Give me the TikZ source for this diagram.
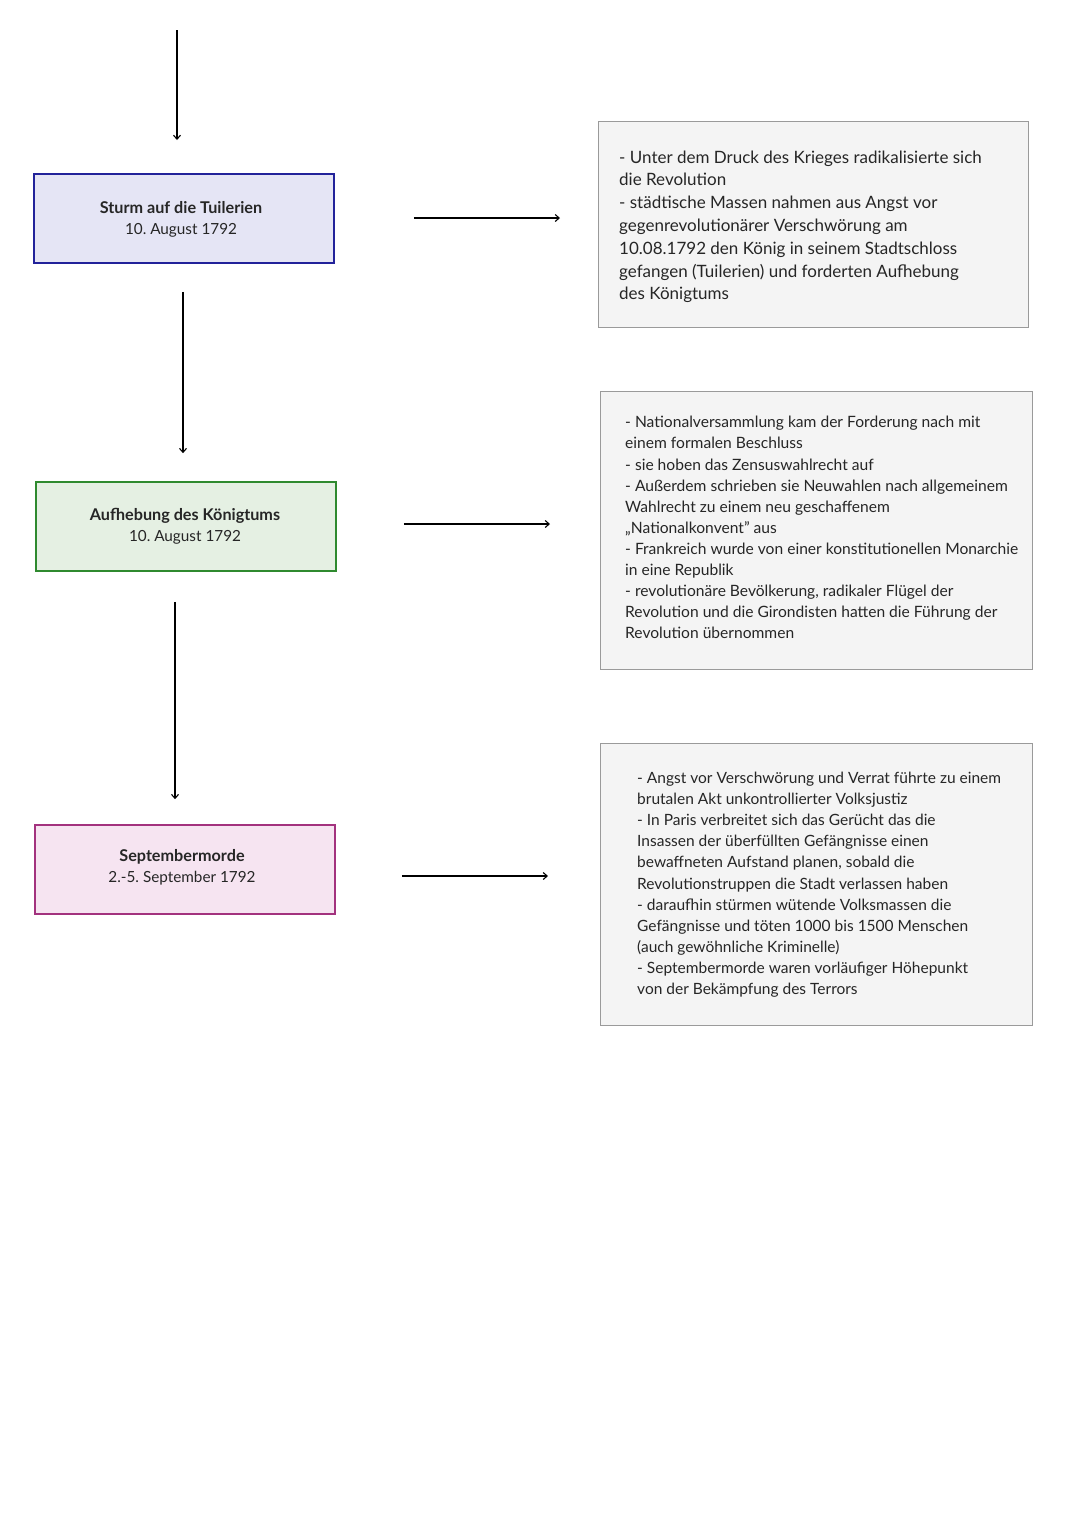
\documentclass[tikz,border=0pt]{standalone}
\usepackage{fontspec}
\setmainfont{Lato}
\usetikzlibrary{arrows.meta,calc}
\frenchspacing
\definecolor{boxgray}{HTML}{F4F4F4}
\definecolor{linegray}{HTML}{9A9A9A}
\definecolor{blueFill}{HTML}{E5E5F5}
\definecolor{blueLine}{HTML}{22229A}
\definecolor{greenFill}{HTML}{E5F0E3}
\definecolor{greenLine}{HTML}{2F8A2F}
\definecolor{pinkFill}{HTML}{F6E4F1}
\definecolor{pinkLine}{HTML}{A3327E}
\definecolor{txt}{HTML}{262626}
\newcommand{\evtitle}[1]{{\fontsize{16.2}{21}\selectfont\bfseries #1}}
\tikzset{
  event/.style={draw, line width=1.6pt, minimum width=300pt, minimum height=89pt,
    align=center, inner sep=0pt, text=txt, font=\fontsize{15.3}{21.5}\selectfont},
  infobox/.style={draw=linegray, fill=boxgray, line width=1.4pt, anchor=north west, inner sep=0pt},
  infotext/.style={anchor=west, align=left, inner sep=0pt, text=txt},
  flow/.style={line width=1.2pt, -{Straight Barb[length=4pt,width=7pt,line width=1.1pt]}}
}
\begin{document}
\begin{tikzpicture}[x=1pt,y=-1pt]
\useasboundingbox (0,0) rectangle (1080,1527);
\fill[white] (0,0) rectangle (1080,1527);

% event boxes
\node[event, fill=blueFill, draw=blueLine] (A) at (184,218.5) {};
\node[text=txt, align=center, inner sep=0pt, font=\fontsize{15.3}{21.5}\selectfont] (At) at ($(A.center)+(-3,1)$) {\evtitle{Sturm auf die Tuilerien}\\10. August 1792};
\node[event, fill=greenFill, draw=greenLine] (B) at (186,526.5) {};
\node[text=txt, align=center, inner sep=0pt, font=\fontsize{15.3}{21.5}\selectfont] (Bt) at ($(B.center)+(-1,0)$) {\evtitle{Aufhebung des Königtums}\\10. August 1792};
\node[event, fill=pinkFill, draw=pinkLine] (C) at (185,869.5) {};
\node[text=txt, align=center, inner sep=0pt, font=\fontsize{15.3}{21.5}\selectfont] (Ct) at ($(C.center)+(-3,-2)$) {\evtitle{Septembermorde}\\2.-5. September 1792};

% info boxes
\node[infobox, minimum width=430pt, minimum height=206pt] (I1) at (598,121) {};
\node[infobox, minimum width=432pt, minimum height=278pt] (I2) at (600,391) {};
\node[infobox, minimum width=432pt, minimum height=282pt] (I3) at (600,743) {};

\node[infotext, font=\fontsize{17}{22.8}\selectfont] (T1) at ($(I1.west)+(21,2)$) {%
- Unter dem Druck des Krieges radikalisierte sich\\
die Revolution\\
- städtische Massen nahmen aus Angst vor\\
gegenrevolutionärer Verschwörung am\\
10.08.1792 den König in seinem Stadtschloss\\
gefangen (Tuilerien) und forderten Aufhebung\\
des Königtums};

\node[infotext, font=\fontsize{15.6}{21.1}\selectfont] (T2) at ($(I2.west)+(25,-3)$) {%
- Nationalversammlung kam der Forderung nach mit\\
einem formalen Beschluss\\
- sie hoben das Zensuswahlrecht auf\\
- Außerdem schrieben sie Neuwahlen nach allgemeinem\\
Wahlrecht zu einem neu geschaffenem\\
„Nationalkonvent” aus\\
- Frankreich wurde von einer konstitutionellen Monarchie\\
in eine Republik\\
- revolutionäre Bevölkerung, radikaler Flügel der\\
Revolution und die Girondisten hatten die Führung der\\
Revolution übernommen};

\node[infotext, font=\fontsize{15.5}{21.1}\selectfont] (T3) at ($(I3.west)+(37,0)$) {%
- Angst vor Verschwörung und Verrat führte zu einem\\
brutalen Akt unkontrollierter Volksjustiz\\
- In Paris verbreitet sich das Gerücht das die\\
Insassen der überfüllten Gefängnisse einen\\
bewaffneten Aufstand planen, sobald die\\
Revolutionstruppen die Stadt verlassen haben\\
- daraufhin stürmen wütende Volksmassen die\\
Gefängnisse und töten 1000 bis 1500 Menschen\\
(auch gewöhnliche Kriminelle)\\
- Septembermorde waren vorläufiger Höhepunkt\\
von der Bekämpfung des Terrors};

% connectors
\coordinate (top) at (177,30);
\draw[flow] (top) -- (177,140);
\draw[flow, shorten <=28pt, shorten >=28pt] ($(A.south)+(-1,0)$) -- ($(B.north)+(-3,0)$);
\draw[flow, shorten <=30pt, shorten >=25pt] ($(B.south)+(-11,0)$) -- ($(C.north)+(-10,0)$);
\draw[flow, shorten <=79pt, shorten >=38pt] ($(A.east)+(0,-0.5)$) -- ($(I1.west|-A.east)+(0,-0.5)$);
\draw[flow, shorten <=67pt, shorten >=50pt] ($(B.east)+(0,-2.5)$) -- ($(I2.west|-B.east)+(0,-2.5)$);
\draw[flow, shorten <=66pt, shorten >=52pt] ($(C.east)+(0,6.5)$) -- ($(I3.west|-C.east)+(0,6.5)$);
\end{tikzpicture}
\end{document}
